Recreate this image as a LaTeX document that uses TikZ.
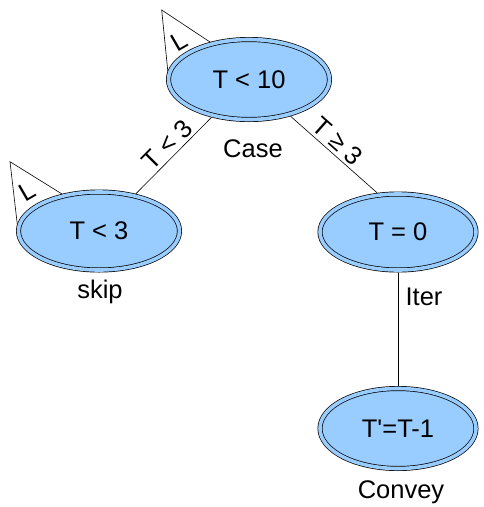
\documentclass[tikz,border=0pt]{standalone}
\usepackage{fontspec}
\setmainfont{Liberation Sans}
\newfontfamily\plainsans{Liberation Sans}
\usetikzlibrary{shapes.geometric}
\definecolor{nodeblue}{HTML}{99CCFF}

\begin{document}
\begin{tikzpicture}[x=1pt, y=-1pt,
  every node/.style={font=\fontsize{25.5}{30}\selectfont},
  state/.style={ellipse, draw=black, line width=0.7pt, double=nodeblue, double distance=3.6pt,
    fill=nodeblue, inner sep=0pt, outer sep=2.5pt},
  edgelabel/.style={sloped, above, inner sep=3pt}]
\useasboundingbox (0, 0) rectangle (484, 507);
% the two L triangles, half hidden by the states
\draw[line width=0.6pt] (168, 73) -- (161.7, 10) -- (213, 44);
\draw[line width=0.6pt] (17.5, 226) -- (10, 161.7) -- (62, 194);
\node[rotate=30, inner sep=0pt] (topL) at (179, 41) {L};
\node[rotate=30, inner sep=0pt] (skipL) at (27.5, 191) {L};
% states
\node[state, minimum width=161pt, minimum height=80pt] (top) at (249, 79.5) {T < 10};
\node[state, minimum width=161pt, minimum height=78pt] (left) at (99, 231) {T < 3};
\node[state, minimum width=156pt, minimum height=76pt] (right) at (398, 232) {T = 0};
\node[state, minimum width=156pt, minimum height=80pt] (bottom) at (398, 428.5) {{\plainsans T'=T-1}};
% edges
\draw[line width=0.6pt] (top) -- node[edgelabel, pos=0.47] (lt3) {T < 3} (left);
\draw[line width=0.6pt] (top) -- node[edgelabel, pos=0.45] (ge3) {T ≥ 3} (right.118);
\draw[line width=0.6pt] (right) -- (bottom);
% names under the states
\node[anchor=base] (case) at (253, 157) {Case};
\node[anchor=base] (skip) at (100, 298) {skip};
\node[anchor=base] (iter) at (424, 305) {Iter};
\node[anchor=base] (convey) at (401, 498) {Convey};
\end{tikzpicture}
\end{document}
